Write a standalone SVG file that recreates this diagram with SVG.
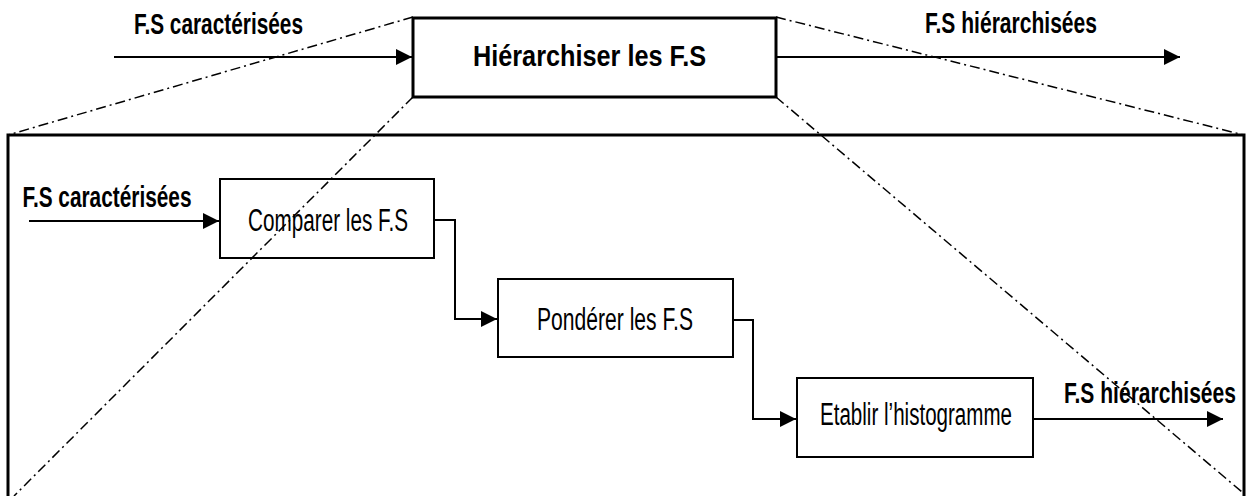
<svg xmlns="http://www.w3.org/2000/svg" width="1248" height="496" viewBox="0 0 1248 496">
<style>
text{font-family:"Liberation Sans Narrow","Liberation Sans",Arial,sans-serif;fill:#000}
.b{font-weight:bold;font-size:29px}
.r{font-weight:normal;font-size:31px}
.box{fill:#fff;stroke:#000;stroke-width:2}
.big{fill:#fff;stroke:#000;stroke-width:3}
.con{fill:none;stroke:#000;stroke-width:2}
.dd{fill:none;stroke:#000;stroke-width:1.5;stroke-dasharray:10 4 2 4}
</style>
<defs>
<marker id="arr" markerUnits="userSpaceOnUse" markerWidth="16" markerHeight="16" viewBox="0 0 15 15" refX="15" refY="7.5" orient="auto"><path d="M0,0 L15,7.5 L0,15 z" fill="#000"/></marker>
</defs>
<rect width="1248" height="496" fill="#fff"/>
<g id="outer"><rect class="big" x="8" y="135" width="1236" height="370"/></g>
<g id="top-process"><rect class="big" x="413" y="18" width="363" height="79"/><text class="b" x="473" y="65.5" textLength="233" lengthAdjust="spacingAndGlyphs">Hiérarchiser les F.S</text></g>
<g id="compare"><rect class="box" x="220" y="179" width="214" height="79"/><text class="r" x="248" y="231" textLength="160" lengthAdjust="spacingAndGlyphs">Comparer les F.S</text></g>
<g id="ponderer"><rect class="box" x="498" y="279" width="235" height="78"/><text class="r" x="537" y="330" textLength="156" lengthAdjust="spacingAndGlyphs">Pondérer les F.S</text></g>
<g id="etablir"><rect class="box" x="797" y="378" width="236" height="79"/><text class="r" x="820" y="425" textLength="192" lengthAdjust="spacingAndGlyphs">Etablir l’histogramme</text></g>
<g id="connectors">
<line class="con" x1="114" y1="57" x2="412" y2="57" marker-end="url(#arr)"/>
<line class="con" x1="777" y1="57" x2="1180" y2="57" marker-end="url(#arr)"/>
<line class="con" x1="29" y1="221" x2="219" y2="221" marker-end="url(#arr)"/>
<path class="con" d="M434,220 H455 V319 H497" marker-end="url(#arr)"/>
<path class="con" d="M733,320 H753 V419 H796" marker-end="url(#arr)"/>
<line class="con" x1="1033" y1="419" x2="1223" y2="419" marker-end="url(#arr)"/>
</g>
<g id="labels">
<text class="b" x="134" y="33.5" textLength="169" lengthAdjust="spacingAndGlyphs">F.S caractérisées</text>
<text class="b" x="925" y="33" textLength="172" lengthAdjust="spacingAndGlyphs">F.S hiérarchisées</text>
<text class="b" x="22.5" y="207" textLength="169" lengthAdjust="spacingAndGlyphs">F.S caractérisées</text>
<text class="b" x="1064" y="403" textLength="172" lengthAdjust="spacingAndGlyphs">F.S hiérarchisées</text>
</g>
<g id="zoom-lines">
<line class="dd" x1="413" y1="17" x2="8" y2="135"/>
<line class="dd" x1="776" y1="17" x2="1244" y2="135"/>
<line class="dd" x1="413" y1="97" x2="14" y2="496"/>
<line class="dd" x1="776" y1="97" x2="1242" y2="492"/>
</g>
</svg>
